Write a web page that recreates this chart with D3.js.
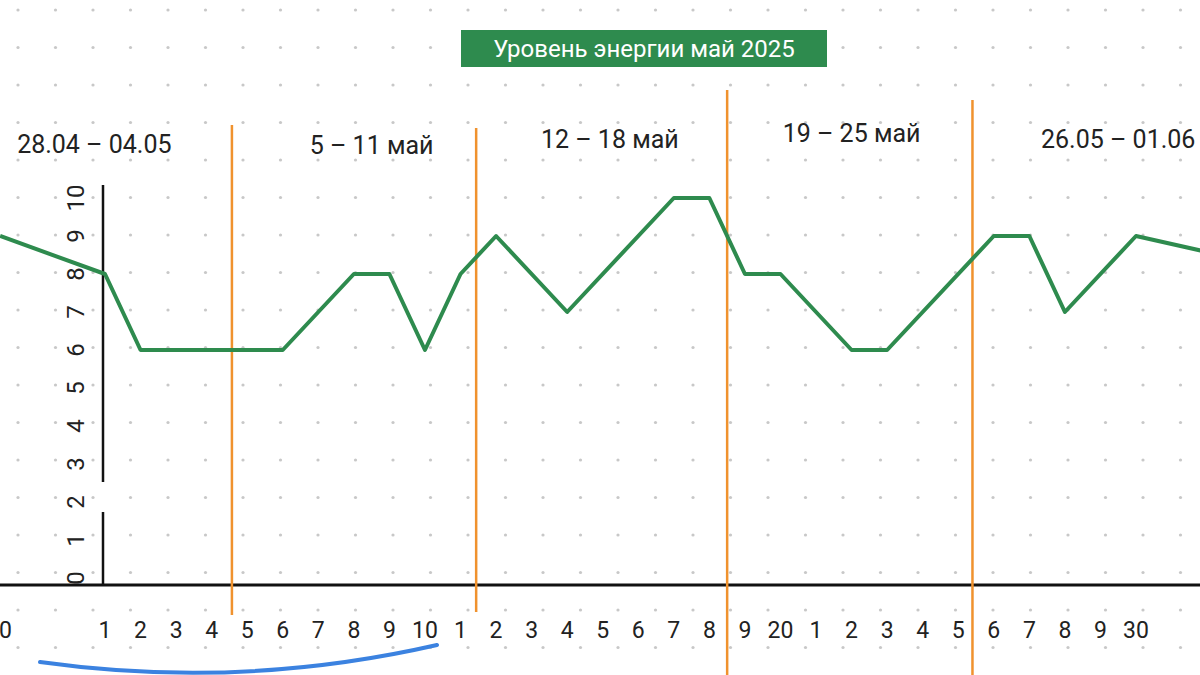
<!DOCTYPE html>
<html><head><meta charset="utf-8">
<script src="https://cdn.jsdelivr.net/npm/d3@7"></script>
<style>body{margin:0;background:#fff}svg{display:block}</style></head>
<body><svg width="1200" height="675"></svg>
<script>
const dayLabels=["0","1","2","3","4","5","6","7","8","9","10","1","2","3","4","5","6","7","8","9","20","1","2","3","4","5","6","7","8","9","30"];
const dayPos=[-1.8,1,2,3,4,5,6,7,8,9,10,11,12,13,14,15,16,17,18,19,20,21,22,23,24,25,26,27,28,29,30];
const lineDays=[-1.95,1,2,6,8,9,10,11,12,14,17,18,19,20,22,23,26,27,28,30,31.9];
const lineVals=[9,8,6,6,8,8,6,8,9,7,10,10,8,8,6,6,9,9,7,9,8.6];
const weekLabels=["28.04 – 04.05","5 – 11 май","12 – 18 май","19 – 25 май","26.05 – 01.06"];
const weekLabelDays=[0.7,8.5,15.2,22.0,29.5];
const weekLabelY=[153,154,148,142,148];
const separatorDays=[4.57,11.44,18.5,25.4];
const sepTop=[125,128,90,100], sepBottom=[615,612,675,675];
const yTicks=[0,1,2,3,4,5,6,7,8,9,10];
const title="Уровень энергии май 2025";

const svg=d3.select("svg");
const x=d3.scaleLinear().domain([1,30]).range([105,1136]);
const y=d3.scaleLinear().domain([0,10]).range([578,198]);

for(let gx=18;gx<1200;gx+=37.5)for(let gy=10;gy<675;gy+=37.5)
 svg.append("circle").attr("cx",gx).attr("cy",gy).attr("r",1.6).attr("fill","#c8c8c8");

svg.append("rect").attr("x",461).attr("y",30).attr("width",366).attr("height",37).attr("fill","#2e8b4e");
svg.append("text").attr("x",644).attr("y",57).attr("text-anchor","middle").attr("fill","#fff")
 .attr("font-family","Roboto").attr("font-size",24).text(title);

svg.append("line").attr("x1",0).attr("x2",1200).attr("y1",585).attr("y2",585).attr("stroke","#111").attr("stroke-width",3);
svg.append("line").attr("x1",103).attr("x2",103).attr("y1",185).attr("y2",482).attr("stroke","#111").attr("stroke-width",2.5);
svg.append("line").attr("x1",103).attr("x2",103).attr("y1",512).attr("y2",585).attr("stroke","#111").attr("stroke-width",2.5);
yTicks.forEach(t=>{
 svg.append("text").attr("transform",`translate(84,${y(t)}) rotate(-90)`).attr("text-anchor","middle")
  .attr("font-family","Roboto").attr("font-size",24).attr("fill","#222").text(t);
});
dayLabels.forEach((l,i)=>{
 svg.append("text").attr("x",x(dayPos[i])).attr("y",638).attr("text-anchor","middle")
  .attr("font-family","Roboto").attr("font-size",23).attr("fill","#222").text(l);
});
separatorDays.forEach((d,i)=>{
 svg.append("line").attr("x1",x(d)).attr("x2",x(d)).attr("y1",sepTop[i]).attr("y2",sepBottom[i]).attr("stroke","#f0922e").attr("stroke-width",2.5);
});
weekLabels.forEach((l,i)=>{
 svg.append("text").attr("x",x(weekLabelDays[i])).attr("y",weekLabelY[i]).attr("text-anchor","middle")
  .attr("font-family","Roboto").attr("font-size",25).attr("fill","#222").text(l);
});
const pts=lineDays.map((d,i)=>[x(d),y(lineVals[i])]);
svg.append("path").attr("d",d3.line()(pts)).attr("fill","none").attr("stroke","#2e8b4e").attr("stroke-width",4).attr("stroke-linejoin","round");
svg.append("path").attr("d","M40,662 Q240,690 437,645").attr("fill","none").attr("stroke","#3b82e0").attr("stroke-width",4).attr("stroke-linecap","round");
</script></body></html>
